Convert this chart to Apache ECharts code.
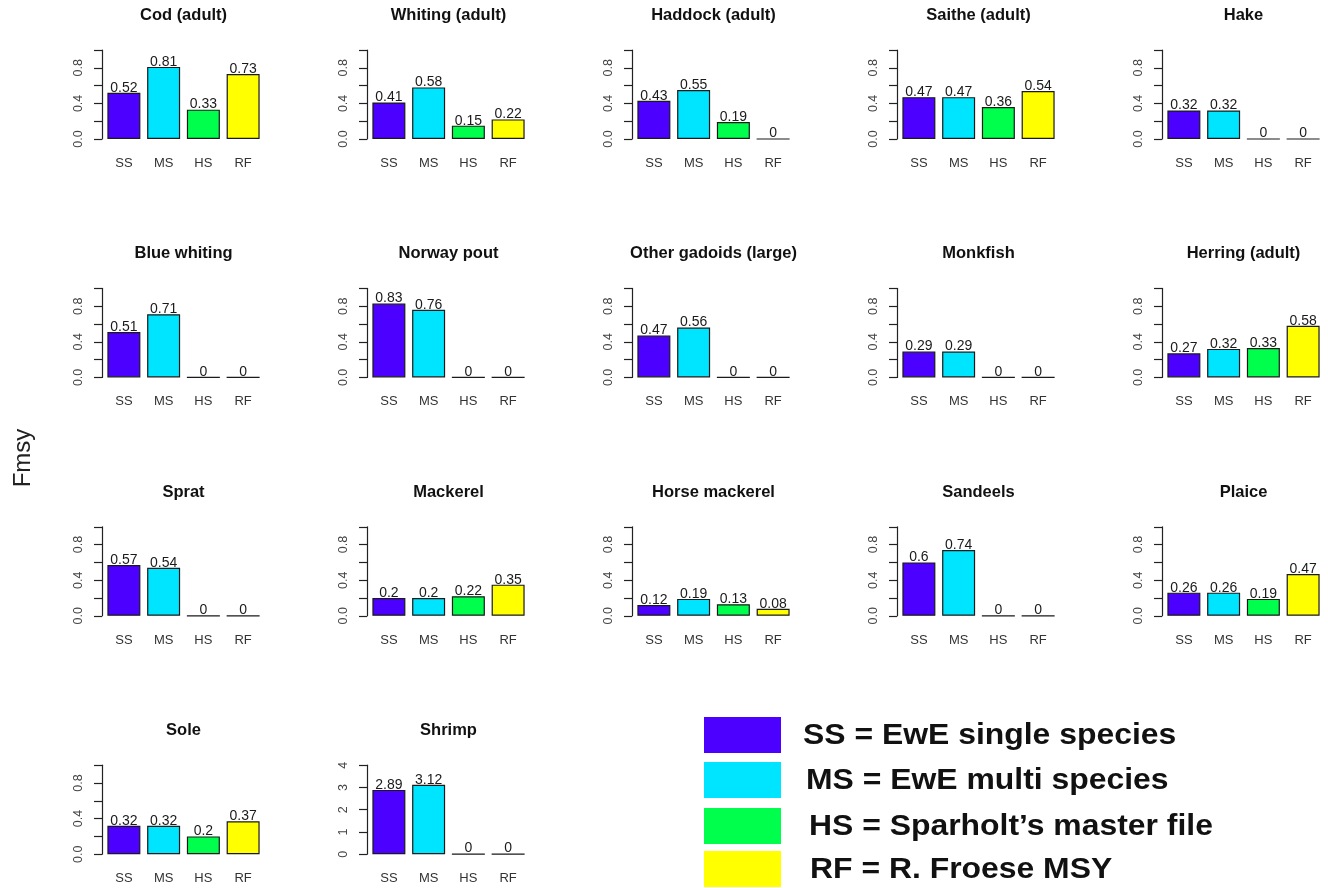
<!DOCTYPE html>
<html>
<head>
<meta charset="utf-8">
<title>Fmsy by species</title>
<script src="https://cdn.jsdelivr.net/npm/echarts@6/dist/echarts.min.js"></script>
<style>
  html, body { margin: 0; padding: 0; background: #ffffff; }
  #chart { width: 1328px; height: 888px; }
</style>
</head>
<body>
<div id="chart"></div>
<script>
// Estimate sources shown in every panel
const categories = ['SS', 'MS', 'HS', 'RF'];
const barColors = ['#4C00FF', '#00E5FF', '#00FF4D', '#FFFF00'];
const legendLabels = [
  'SS = EwE single species',
  'MS = EwE multi species',
  'HS = Sparholt\u2019s master file',
  'RF = R. Froese MSY'
];

// Fmsy values per species, in category order SS, MS, HS, RF
const codAdult = [0.52, 0.81, 0.33, 0.73];
const whitingAdult = [0.41, 0.58, 0.15, 0.22];
const haddockAdult = [0.43, 0.55, 0.19, 0];
const saitheAdult = [0.47, 0.47, 0.36, 0.54];
const hake = [0.32, 0.32, 0, 0];
const blueWhiting = [0.51, 0.71, 0, 0];
const norwayPout = [0.83, 0.76, 0, 0];
const otherGadoids = [0.47, 0.56, 0, 0];
const monkfish = [0.29, 0.29, 0, 0];
const herringAdult = [0.27, 0.32, 0.33, 0.58];
const sprat = [0.57, 0.54, 0, 0];
const mackerel = [0.2, 0.2, 0.22, 0.35];
const horseMackerel = [0.12, 0.19, 0.13, 0.08];
const sandeels = [0.6, 0.74, 0, 0];
const plaice = [0.26, 0.26, 0.19, 0.47];
const sole = [0.32, 0.32, 0.2, 0.37];
const shrimp = [2.89, 3.12, 0, 0];

// Y axis tick labels (only these are printed; other ticks stay unlabeled)
const fractionTickLabels = ['0.0', '0.4', '0.8'];
const shrimpTickLabels = ['0', '1', '2', '3', '4'];

const panels = [
  ['Cod (adult)', codAdult],
  ['Whiting (adult)', whitingAdult],
  ['Haddock (adult)', haddockAdult],
  ['Saithe (adult)', saitheAdult],
  ['Hake', hake],
  ['Blue whiting', blueWhiting],
  ['Norway pout', norwayPout],
  ['Other gadoids (large)', otherGadoids],
  ['Monkfish', monkfish],
  ['Herring (adult)', herringAdult],
  ['Sprat', sprat],
  ['Mackerel', mackerel],
  ['Horse mackerel', horseMackerel],
  ['Sandeels', sandeels],
  ['Plaice', plaice],
  ['Sole', sole],
  ['Shrimp', shrimp]
];

const FONT = '"Liberation Sans", Arial, Helvetica, sans-serif';
const COLS = 5;
const GRID_LEFT0 = 104, COL_STEP = 265, GRID_W = 159;
const GRID_TOP0 = 50, ROW_STEP = 238.4, GRID_H = 89;

const grids = [], xAxes = [], yAxes = [], series = [], titles = [];

panels.forEach(([name, values], i) => {
  const c = i % COLS, r = Math.floor(i / COLS);
  const left = GRID_LEFT0 + COL_STEP * c;
  const top = GRID_TOP0 + ROW_STEP * r;
  const big = name === 'Shrimp';
  const tickLabels = big ? shrimpTickLabels : fractionTickLabels;

  grids.push({ left: left, top: top, width: GRID_W, height: GRID_H, containLabel: false });

  titles.push({
    text: name,
    left: left + GRID_W / 2,
    top: top - 43,
    textAlign: 'center',
    padding: 0,
    textStyle: { fontFamily: FONT, fontWeight: 'bold', fontSize: 16.5, color: '#111' }
  });

  xAxes.push({
    type: 'category',
    gridIndex: i,
    data: categories,
    axisLine: { show: false },
    axisTick: { show: false },
    axisLabel: { margin: 18, fontFamily: FONT, fontSize: 13, color: '#333' }
  });

  yAxes.push({
    type: 'value',
    gridIndex: i,
    min: 0,
    max: big ? 4 : 1,
    interval: big ? 1 : 0.2,
    offset: 2,
    splitLine: { show: false },
    axisLine: { show: true, lineStyle: { color: '#222', width: 1.2 } },
    axisTick: { show: true, length: 8, lineStyle: { color: '#222', width: 1.2 } },
    axisLabel: {
      rotate: 90,
      margin: 17,
      fontFamily: FONT,
      fontSize: 12.5,
      color: '#444',
      formatter: function (v) {
        const s = big ? String(v) : v.toFixed(1);
        return tickLabels.indexOf(s) >= 0 ? s : '';
      }
    }
  });

  series.push({
    type: 'bar',
    name: name,
    xAxisIndex: i,
    yAxisIndex: i,
    colorBy: 'data',
    barWidth: '83%',
    data: values,
    itemStyle: { borderColor: '#1a1a1a', borderWidth: 1.2 },
    label: {
      show: true,
      position: 'top',
      distance: -2,
      fontFamily: FONT,
      fontSize: 14,
      color: '#1a1a1a',
      formatter: p => String(p.value)
    },
    emphasis: { disabled: true },
    animation: false
  });
});

// Legend block: colour key with descriptive text
const legendGraphics = [];
const legendRects = [717, 762, 808, 851];
const legendTextX = [803, 806, 809, 810];
legendLabels.forEach((txt, k) => {
  legendGraphics.push({
    type: 'rect',
    shape: { x: 704, y: legendRects[k], width: 77, height: 36 },
    style: { fill: barColors[k] }
  });
  legendGraphics.push({
    type: 'text',
    x: legendTextX[k],
    y: legendRects[k] + 19,
    scaleX: 1.1,
    style: {
      text: txt,
      fill: '#111',
      font: 'bold 29px ' + FONT,
      textVerticalAlign: 'middle',
      textAlign: 'left'
    }
  });
});
legendGraphics.push({
  type: 'text',
  x: 23,
  y: 458,
  rotation: Math.PI / 2,
  style: {
    text: 'Fmsy',
    fill: '#222',
    font: '24px ' + FONT,
    textAlign: 'center',
    textVerticalAlign: 'middle'
  }
});

const chart = echarts.init(document.getElementById('chart'), null, { renderer: 'canvas' });
chart.setOption({
  animation: false,
  backgroundColor: '#ffffff',
  color: barColors,
  title: titles,
  grid: grids,
  xAxis: xAxes,
  yAxis: yAxes,
  series: series,
  graphic: legendGraphics
});
</script>
</body>
</html>
